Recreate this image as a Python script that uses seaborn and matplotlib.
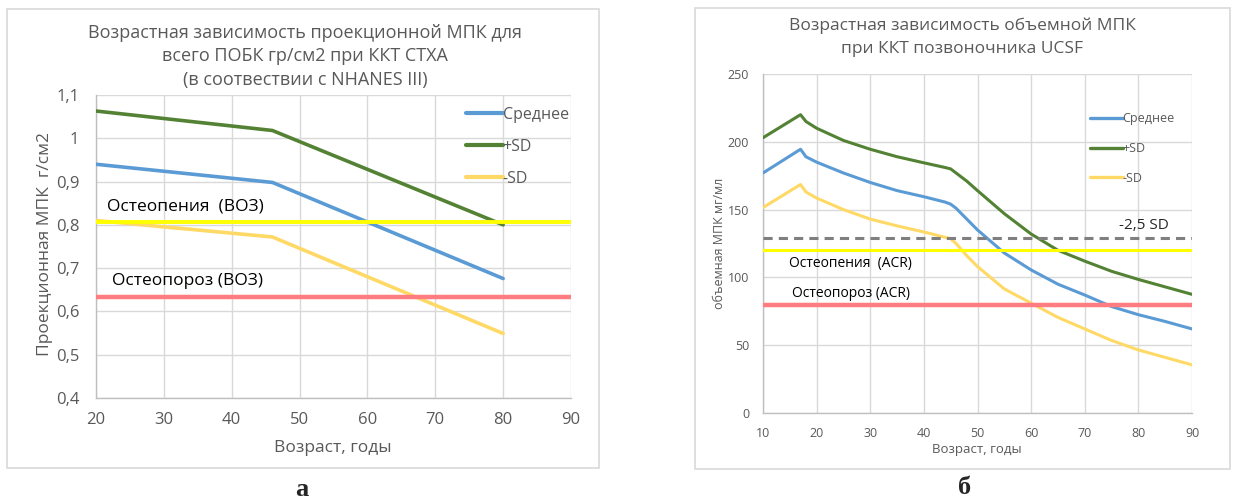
import matplotlib
matplotlib.use("Agg")
import matplotlib.pyplot as plt
import seaborn as sns
import pandas as pd
from matplotlib.lines import Line2D
from matplotlib.patches import Rectangle

# ---------------- data: panel a ----------------
ages_a = [20, 46, 80]
mean_a = [0.94, 0.898, 0.676]
plus_a = [1.063, 1.018, 0.80]
minus_a = [0.81, 0.772, 0.549]
osteopenia_a = 0.807
osteoporosis_a = 0.634
xticks_a = [20, 30, 40, 50, 60, 70, 80, 90]
yticks_a = [0.4, 0.5, 0.6, 0.7, 0.8, 0.9, 1.0, 1.1]
ylabels_a = ["0,4", "0,5", "0,6", "0,7", "0,8", "0,9", "1", "1,1"]

# ---------------- data: panel б ----------------
ages_b = [10, 17, 18, 20, 25, 30, 35, 40, 44, 45, 46, 48, 50, 55, 60, 65, 70, 75, 80, 85, 90]
mean_b = [177, 194.5, 189, 185, 177, 170, 164, 159.5, 155.5, 154, 151, 143, 135, 118, 105.5, 95, 87, 78.5, 72.5, 67.5, 62]
plus_b = [203, 220, 215, 210, 201, 194.5, 189, 184.5, 181, 180, 177, 171, 164, 147, 132, 120, 112, 104.5, 98.5, 93, 87.5]
minus_b = [151.5, 168.5, 163, 158.5, 150, 143, 138, 133.5, 129.5, 128.5, 125, 116, 108, 91.5, 81, 70.5, 62, 53.5, 46.5, 41, 35.5]
sd25_b = 129
osteopenia_b = 120
osteoporosis_b = 80
xticks_b = [10, 20, 30, 40, 50, 60, 70, 80, 90]
yticks_b = [0, 50, 100, 150, 200, 250]

series_names = ["Среднее", "+SD", "-SD"]
palette = {"Среднее": "#5B9BD5", "+SD": "#548235", "-SD": "#FFD966"}

sns.set_theme(style="white")
plt.rcParams["font.family"] = ["Open Sans", "DejaVu Sans"]

W, H = 1235, 501
fig = plt.figure(figsize=(W / 100, H / 100), dpi=100)


def fx(px):
    return px / W


def fy(py):
    return 1 - py / H


GRAY = "#595959"
GRID = "#D9D9D9"

# chart frames
for (x0, y0, x1, y1) in [(7, 9, 599, 468), (695, 8, 1230, 469)]:
    fig.add_artist(Rectangle((fx(x0), fy(y1)), fx(x1) - fx(x0), fy(y0) - fy(y1),
                             transform=fig.transFigure, fill=False,
                             edgecolor="#D9D9D9", linewidth=1.2))


def long_df(ages, a, b, c):
    rows = []
    for name, vals in zip(series_names, [a, b, c]):
        for x, v in zip(ages, vals):
            rows.append({"age": x, "val": v, "series": name})
    return pd.DataFrame(rows)


def style_axes(ax, xticks, yticks, ylabels, fs):
    ax.set_xticks(xticks)
    ax.set_yticks(yticks)
    ax.set_yticklabels(ylabels)
    ax.set_xticklabels([str(t) for t in xticks])
    ax.grid(True, color=GRID, linewidth=1.0)
    ax.set_axisbelow(True)
    for s in ["top", "right"]:
        ax.spines[s].set_visible(False)
    for s in ["left", "bottom"]:
        ax.spines[s].set_color("#BFBFBF")
        ax.spines[s].set_linewidth(1.0)
    ax.tick_params(length=0, labelsize=fs, colors=GRAY)
    ax.set_xlabel("")
    ax.set_ylabel("")


# ---------------- panel a ----------------
axa = fig.add_axes([fx(96), fy(398), fx(571) - fx(96), fy(95) - fy(398)])
dfa = long_df(ages_a, mean_a, plus_a, minus_a)
sns.lineplot(data=dfa, x="age", y="val", hue="series", hue_order=series_names,
             palette=palette, linewidth=2.6, legend=False, ax=axa, zorder=3)
axa.axhline(osteopenia_a, color="#FFFF00", linewidth=2.8, zorder=4)
axa.axhline(osteoporosis_a, color="#FF7C80", linewidth=3.2, zorder=4)
axa.set_xlim(20, 90)
axa.set_ylim(0.4, 1.1)
style_axes(axa, xticks_a, yticks_a, ylabels_a, 12)
axa.tick_params(axis="y", pad=12)
axa.tick_params(axis="x", pad=10)
axa.text(21.6, osteopenia_a + 0.017, "Остеопения  (ВОЗ)", fontsize=12.5, color="#000000", va="bottom")
axa.text(22.4, osteoporosis_a + 0.017, "Остеопороз (ВОЗ)", fontsize=12.5, color="#000000", va="bottom")

handles_a = [Line2D([0], [0], color=palette[n], linewidth=3) for n in series_names]
axa.legend(handles_a, series_names, loc="upper left",
           bbox_to_anchor=(fx(466), fy(107)), bbox_transform=fig.transFigure,
           frameon=False, fontsize=11.5, handlelength=2.3, handletextpad=0.0,
           labelspacing=1.0, borderpad=0, borderaxespad=0, labelcolor=GRAY)

fig.text(fx(305), fy(33), "Возрастная зависимость проекционной МПК для", ha="center", va="center", fontsize=13, color=GRAY)
fig.text(fx(305), fy(56), "всего ПОБК гр/см2 при ККТ СТХА", ha="center", va="center", fontsize=13, color=GRAY)
fig.text(fx(305), fy(80), "(в соотвествии с NHANES III)", ha="center", va="center", fontsize=13, color=GRAY)
fig.text(fx(45), fy(244), "Проекционная МПК  г/см2", rotation=90, ha="center", va="center", fontsize=12.5, color=GRAY)
fig.text(fx(333), fy(448), "Возраст, годы", ha="center", va="center", fontsize=12.5, color=GRAY)

# ---------------- panel б ----------------
axb = fig.add_axes([fx(763), fy(413), fx(1192) - fx(763), fy(74) - fy(413)])
dfb = long_df(ages_b, mean_b, plus_b, minus_b)
sns.lineplot(data=dfb, x="age", y="val", hue="series", hue_order=series_names,
             palette=palette, linewidth=2.2, legend=False, ax=axb, zorder=3)
axb.axhline(sd25_b, color="#7F7F7F", linewidth=2.2, linestyle=(0, (3, 2)), zorder=4)
axb.axhline(osteopenia_b, color="#FFFF00", linewidth=2.2, zorder=4)
axb.axhline(osteoporosis_b, color="#FF7C80", linewidth=3.2, zorder=4)
axb.set_xlim(10, 90)
axb.set_ylim(0, 250)
style_axes(axb, xticks_b, yticks_b, [str(t) for t in yticks_b], 9)
axb.tick_params(axis="y", pad=10)
axb.tick_params(axis="x", pad=10)
axb.text(14.8, osteopenia_b - 4, "Остеопения  (ACR)", fontsize=10, color="#000000", va="top")
axb.text(15.5, osteoporosis_b + 2.5, "Остеопороз (ACR)", fontsize=10, color="#000000", va="bottom")
axb.text(76.4, sd25_b + 3.5, "-2,5 SD", fontsize=11, color="#262626", va="bottom")

handles_b = [Line2D([0], [0], color=palette[n], linewidth=2.4) for n in series_names]
axb.legend(handles_b, series_names, loc="upper left",
           bbox_to_anchor=(fx(1090), fy(112)), bbox_transform=fig.transFigure,
           frameon=False, fontsize=9, handlelength=2.6, handletextpad=0.0,
           labelspacing=1.35, borderpad=0, borderaxespad=0, labelcolor=GRAY)

fig.text(fx(962), fy(26), "Возрастная зависимость объемной МПК", ha="center", va="center", fontsize=12.5, color=GRAY)
fig.text(fx(962), fy(49), "при ККТ позвоночника UCSF", ha="center", va="center", fontsize=12.5, color=GRAY)
fig.text(fx(720), fy(243), "объемная МПК мг/мл", rotation=90, ha="center", va="center", fontsize=9, color=GRAY)
fig.text(fx(977), fy(450), "Возраст, годы", ha="center", va="center", fontsize=9.5, color=GRAY)

# panel letters
fig.text(fx(302), fy(489), "а", ha="center", va="center", fontsize=19, fontweight="bold", family="Liberation Serif")
fig.text(fx(965), fy(487), "б", ha="center", va="center", fontsize=19, fontweight="bold", family="Liberation Serif")

fig.savefig("out.png", dpi=100)
